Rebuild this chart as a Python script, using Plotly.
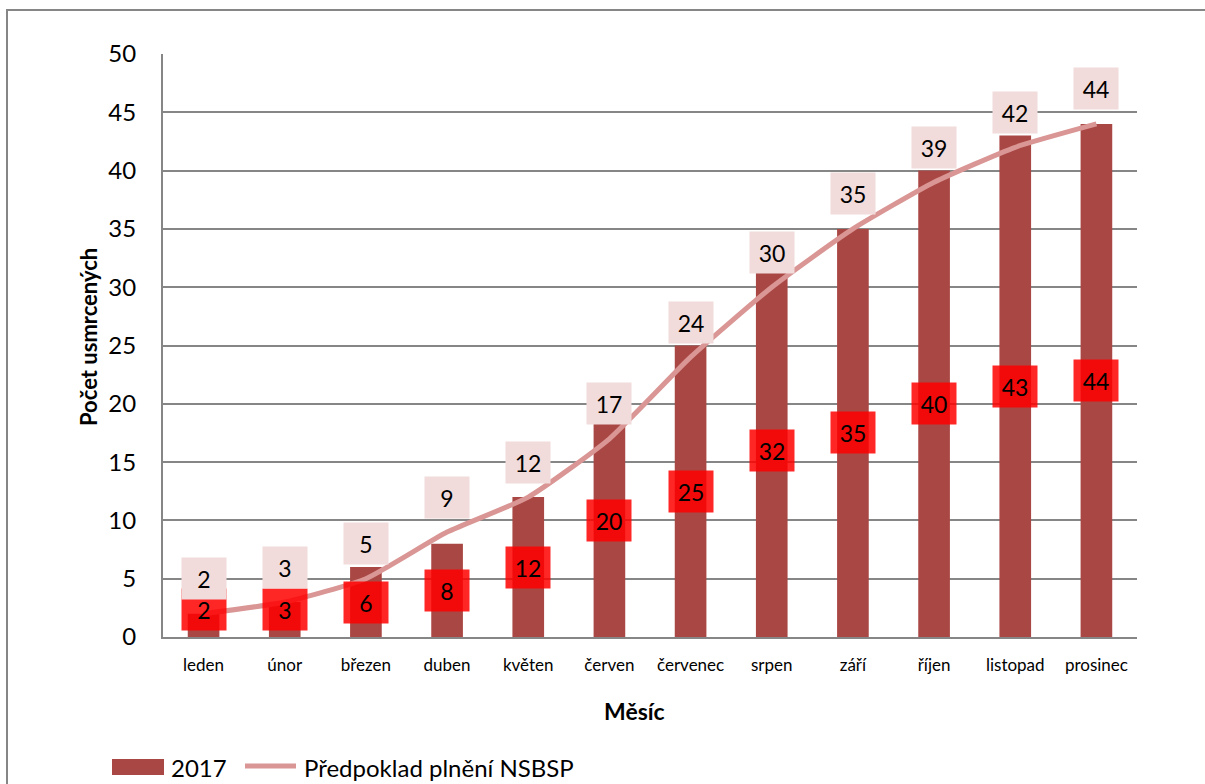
import plotly.graph_objects as go

# Monthly data
months = ["leden", "únor", "březen", "duben", "květen", "červen",
          "červenec", "srpen", "září", "říjen", "listopad", "prosinec"]
actual_2017 = [2, 3, 6, 8, 12, 20, 25, 32, 35, 40, 43, 44]
target_nsbsp = [2, 3, 5, 9, 12, 17, 24, 30, 35, 39, 42, 44]

bar_name = "2017"
line_name = "Předpoklad plnění NSBSP"
y_title = "Počet usmrcených"
x_title = "Měsíc"

FONT = "Lato"
BAR_COLOR = "#A94744"
LINE_COLOR = "#D99694"
GRID = "#868686"

W, H = 1205, 784
ML, MR, MT, MB = 163, 68, 54, 147
PW, PH = W - ML - MR, H - MT - MB


def px_x(px):
    return (px - ML) / PW


def px_y(py):
    return (H - MB - py) / PH


fig = go.Figure()
fig.add_trace(go.Bar(
    x=months, y=actual_2017, name=bar_name,
    marker=dict(color=BAR_COLOR, line=dict(width=0)),
    width=0.39, showlegend=False, hoverinfo="x+y",
))
fig.add_trace(go.Scatter(
    x=months, y=target_nsbsp, name=line_name, mode="lines",
    line=dict(color=LINE_COLOR, width=5, shape="spline", smoothing=0.5),
    showlegend=False,
))

annotations = []
# value labels inside the bars
for m, v in zip(months, actual_2017):
    annotations.append(dict(
        x=m, y=max(v / 2, 2.4), xref="x", yref="y", text=str(v),
        showarrow=False, font=dict(family=FONT, size=23, color="black"),
        bgcolor="rgba(255,0,0,0.85)", width=44, height=41, borderpad=0,
        xanchor="center", yanchor="middle",
    ))
# value labels above the target line
for m, v in zip(months, target_nsbsp):
    annotations.append(dict(
        x=m, y=v, xref="x", yref="y", text=str(v), yshift=35,
        showarrow=False, font=dict(family=FONT, size=23, color="black"),
        bgcolor="#F2DCDB", width=44, height=41, borderpad=0,
        xanchor="center", yanchor="middle",
    ))

# axis titles
annotations.append(dict(
    x=px_x(88), y=px_y(337), xref="paper", yref="paper", text=f"<b>{y_title}</b>",
    textangle=-90, showarrow=False, font=dict(family=FONT, size=22, color="black"),
    xanchor="center", yanchor="middle",
))
annotations.append(dict(
    x=px_x(634), y=px_y(711), xref="paper", yref="paper", text=f"<b>{x_title}</b>",
    showarrow=False, font=dict(family=FONT, size=23, color="black"),
    xanchor="center", yanchor="middle",
))

# legend entries
annotations.append(dict(
    x=px_x(169), y=px_y(767), xref="paper", yref="paper", text=bar_name,
    showarrow=False, font=dict(family=FONT, size=24, color="black"),
    xanchor="left", yanchor="middle",
))
annotations.append(dict(
    x=px_x(302), y=px_y(767), xref="paper", yref="paper", text=line_name,
    showarrow=False, font=dict(family=FONT, size=24, color="black"),
    xanchor="left", yanchor="middle",
))

shapes = [
    # outer chart border
    dict(type="rect", xref="paper", yref="paper",
         x0=px_x(7), x1=px_x(1212), y0=px_y(10), y1=px_y(810),
         line=dict(color=GRID, width=2), fillcolor="rgba(0,0,0,0)", layer="below"),
    # legend swatches
    dict(type="rect", xref="paper", yref="paper",
         x0=px_x(112), x1=px_x(164), y0=px_y(775), y1=px_y(759),
         line=dict(width=0), fillcolor=BAR_COLOR),
    dict(type="line", xref="paper", yref="paper",
         x0=px_x(245), x1=px_x(296), y0=px_y(766), y1=px_y(766),
         line=dict(color=LINE_COLOR, width=5)),
]

fig.update_layout(
    width=W, height=H, autosize=False,
    margin=dict(l=ML, r=MR, t=MT, b=MB, pad=0),
    paper_bgcolor="white", plot_bgcolor="white",
    font=dict(family=FONT, color="black"),
    showlegend=False,
    annotations=annotations, shapes=shapes,
    bargap=0.61,
)
fig.update_yaxes(
    range=[0, 50], dtick=5, showgrid=True, gridcolor=GRID, gridwidth=1.5,
    showline=True, linecolor=GRID, linewidth=2, ticks="",
    tickfont=dict(family=FONT, size=24, color="black"),
    ticklabelstandoff=20, zeroline=False, fixedrange=True,
)
fig.update_xaxes(
    showline=True, linecolor=GRID, linewidth=2, ticks="", showgrid=False,
    tickfont=dict(family=FONT, size=17, color="black"),
    ticklabelstandoff=12, fixedrange=True,
)

fig.write_html("out.html")
